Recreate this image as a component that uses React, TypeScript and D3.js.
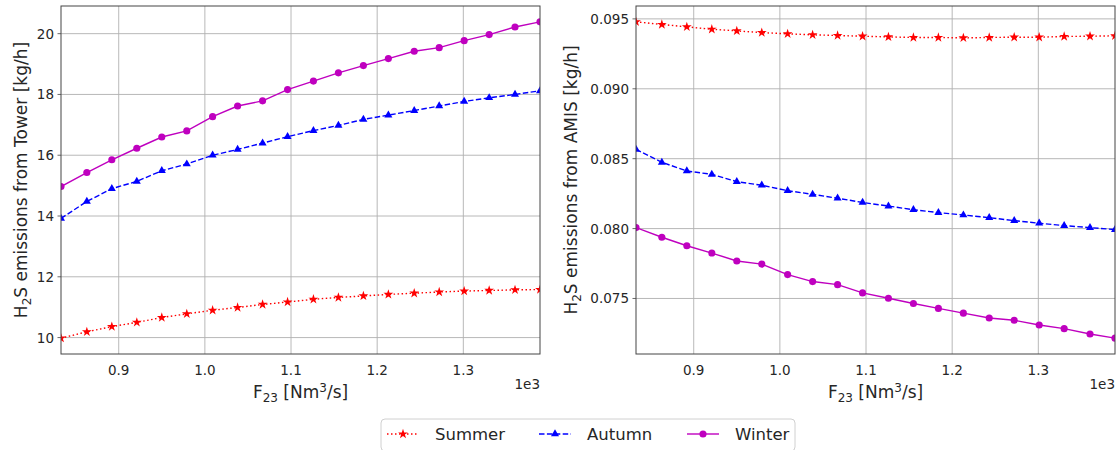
import * as d3 from "d3";

// F23 in Nm3/s (axis shows them divided by 1e3)
const flows = [833, 863, 892, 921, 950, 979, 1009, 1038, 1067, 1096, 1126, 1155, 1184, 1213, 1243, 1272, 1301, 1330, 1360, 1389];

const towerSummer = [9.98, 10.19, 10.36, 10.5, 10.66, 10.78, 10.9, 10.99, 11.09, 11.17, 11.26, 11.32, 11.37, 11.42, 11.46, 11.5, 11.53, 11.55, 11.57, 11.58];
const towerAutumn = [13.92, 14.48, 14.9, 15.14, 15.49, 15.71, 16.0, 16.19, 16.4, 16.61, 16.81, 16.98, 17.18, 17.32, 17.47, 17.62, 17.77, 17.89, 18.0, 18.12];
const towerWinter = [14.97, 15.43, 15.85, 16.23, 16.6, 16.8, 17.27, 17.62, 17.79, 18.16, 18.44, 18.71, 18.95, 19.18, 19.42, 19.54, 19.77, 19.97, 20.22, 20.39];

const amisSummer = [0.09479, 0.0946, 0.09443, 0.09426, 0.09414, 0.09402, 0.09393, 0.09386, 0.09381, 0.09376, 0.09371, 0.09367, 0.09367, 0.09364, 0.09367, 0.09369, 0.09369, 0.09374, 0.09376, 0.09379];
const amisAutumn = [0.08567, 0.08474, 0.08412, 0.08388, 0.08336, 0.0831, 0.08271, 0.08245, 0.08217, 0.08187, 0.08161, 0.08135, 0.08114, 0.08097, 0.08078, 0.08057, 0.08038, 0.08021, 0.08007, 0.07993];
const amisWinter = [0.08007, 0.07938, 0.07877, 0.07825, 0.07768, 0.07746, 0.07671, 0.07621, 0.07599, 0.0754, 0.07502, 0.07464, 0.07429, 0.07395, 0.0736, 0.07344, 0.0731, 0.07284, 0.07246, 0.07216];

const xTicks = [0.9, 1.0, 1.1, 1.2, 1.3];
const towerTicks = [10, 12, 14, 16, 18, 20];
const amisTicks = [0.075, 0.08, 0.085, 0.09, 0.095];

const seasons = ["Summer", "Autumn", "Winter"];

const styles = [
  { color: "#ff0000", dash: "1.5,2.5", symbol: d3.symbolStar, size: 30 },
  { color: "#0000ff", dash: "5.5,2.4", symbol: d3.symbolTriangle, size: 28 },
  { color: "#bf00bf", dash: null, symbol: d3.symbolCircle, size: 40 },
];

const FONT = "DejaVu Sans, sans-serif";
const TXT = "#262626";

const top = 6;
const bottom = 354;

function Panel({ id, x0, x1, series, ticks, fmt, label }) {
  const x = d3.scaleLinear().domain([d3.min(flows), d3.max(flows)]).range([x0, x1]);
  const all = series.flat();
  const lo = d3.min(all), hi = d3.max(all);
  const pad = (hi - lo) * 0.05;
  const y = d3.scaleLinear().domain([lo - pad, hi + pad]).range([bottom, top]);
  const line = d3.line<number>().x((_, i) => x(flows[i])).y((d) => y(d));
  const xt = xTicks.map((t) => t * 1000);
  return (
    <g>
      <defs>
        <clipPath id={id}>
          <rect x={x0} y={top} width={x1 - x0} height={bottom - top} />
        </clipPath>
      </defs>
      <rect x={x0} y={top} width={x1 - x0} height={bottom - top} fill="#fff" />
      {xt.map((t) => (
        <line key={"gx" + t} x1={x(t)} x2={x(t)} y1={top} y2={bottom} stroke="#b0b0b0" strokeWidth={0.9} />
      ))}
      {ticks.map((t) => (
        <line key={"gy" + t} x1={x0} x2={x1} y1={y(t)} y2={y(t)} stroke="#b0b0b0" strokeWidth={0.9} />
      ))}
      <g clipPath={`url(#${id})`}>
        {series.map((s, k) => (
          <g key={k}>
            <path d={line(s)} fill="none" stroke={styles[k].color} strokeWidth={1.4}
              strokeDasharray={styles[k].dash || undefined} />
            {s.map((v, i) => (
              <path key={i} transform={`translate(${x(flows[i])},${y(v)})`}
                d={d3.symbol(styles[k].symbol, styles[k].size)()} fill={styles[k].color} />
            ))}
          </g>
        ))}
      </g>
      <rect x={x0} y={top} width={x1 - x0} height={bottom - top} fill="none" stroke="#444" strokeWidth={1} />
      {ticks.map((t) => (
        <line key={"tk" + t} x1={x0 - 3.5} x2={x0} y1={y(t)} y2={y(t)} stroke="#444" strokeWidth={0.8} />
      ))}
      {xt.map((t, i) => (
        <text key={"tx" + t} x={x(t)} y={375} textAnchor="middle" fontSize={13.5} fill={TXT}>
          {xTicks[i].toFixed(1)}
        </text>
      ))}
      {ticks.map((t) => (
        <text key={"ty" + t} x={x0 - 7} y={y(t) + 5} textAnchor="end" fontSize={13.5} fill={TXT}>
          {fmt(t)}
        </text>
      ))}
      <text x={x1} y={389} textAnchor="end" fontSize={13.5} fill={TXT}>1e3</text>
      <text x={(x0 + x1) / 2} y={398} textAnchor="middle" fontSize={17} fill={TXT}>
        F<tspan fontSize={12} dy={4}>23</tspan>
        <tspan dy={-4}> [Nm</tspan>
        <tspan fontSize={12} dy={-6}>3</tspan>
        <tspan dy={6}>/s]</tspan>
      </text>
      <text transform={`translate(${label.x},${(top + bottom) / 2}) rotate(-90)`} textAnchor="middle" fontSize={17} fill={TXT}>
        H<tspan fontSize={12} dy={4}>2</tspan>
        <tspan dy={-4}>{"S emissions from " + label.text + " [kg/h]"}</tspan>
      </text>
    </g>
  );
}

export default function App() {
  const legendX = [387, 539, 687];
  return (
    <svg width={1120} height={450} style={{ display: "block", position: "absolute", left: 0, top: 0 }} fontFamily={FONT}>
      <rect width={1120} height={450} fill="#fff" />
      <Panel id="cl" x0={61} x1={540} series={[towerSummer, towerAutumn, towerWinter]}
        ticks={towerTicks} fmt={(t) => String(t)} label={{ x: 27, text: "Tower" }} />
      <Panel id="cr" x0={636} x1={1115} series={[amisSummer, amisAutumn, amisWinter]}
        ticks={amisTicks} fmt={(t) => t.toFixed(3)} label={{ x: 577, text: "AMIS" }} />
      <rect x={381} y={419} width={414} height={32} rx={4} fill="#fff" stroke="#d0d0d0" strokeWidth={1} />
      {seasons.map((s, k) => (
        <g key={s}>
          <line x1={legendX[k]} x2={legendX[k] + 32} y1={434} y2={434} stroke={styles[k].color} strokeWidth={1.4}
            strokeDasharray={styles[k].dash || undefined} />
          <path transform={`translate(${legendX[k] + 16},434)`} d={d3.symbol(styles[k].symbol, styles[k].size)()} fill={styles[k].color} />
          <text x={legendX[k] + 48} y={440} fontSize={16.5} fill={TXT}>{s}</text>
        </g>
      ))}
    </svg>
  );
}
